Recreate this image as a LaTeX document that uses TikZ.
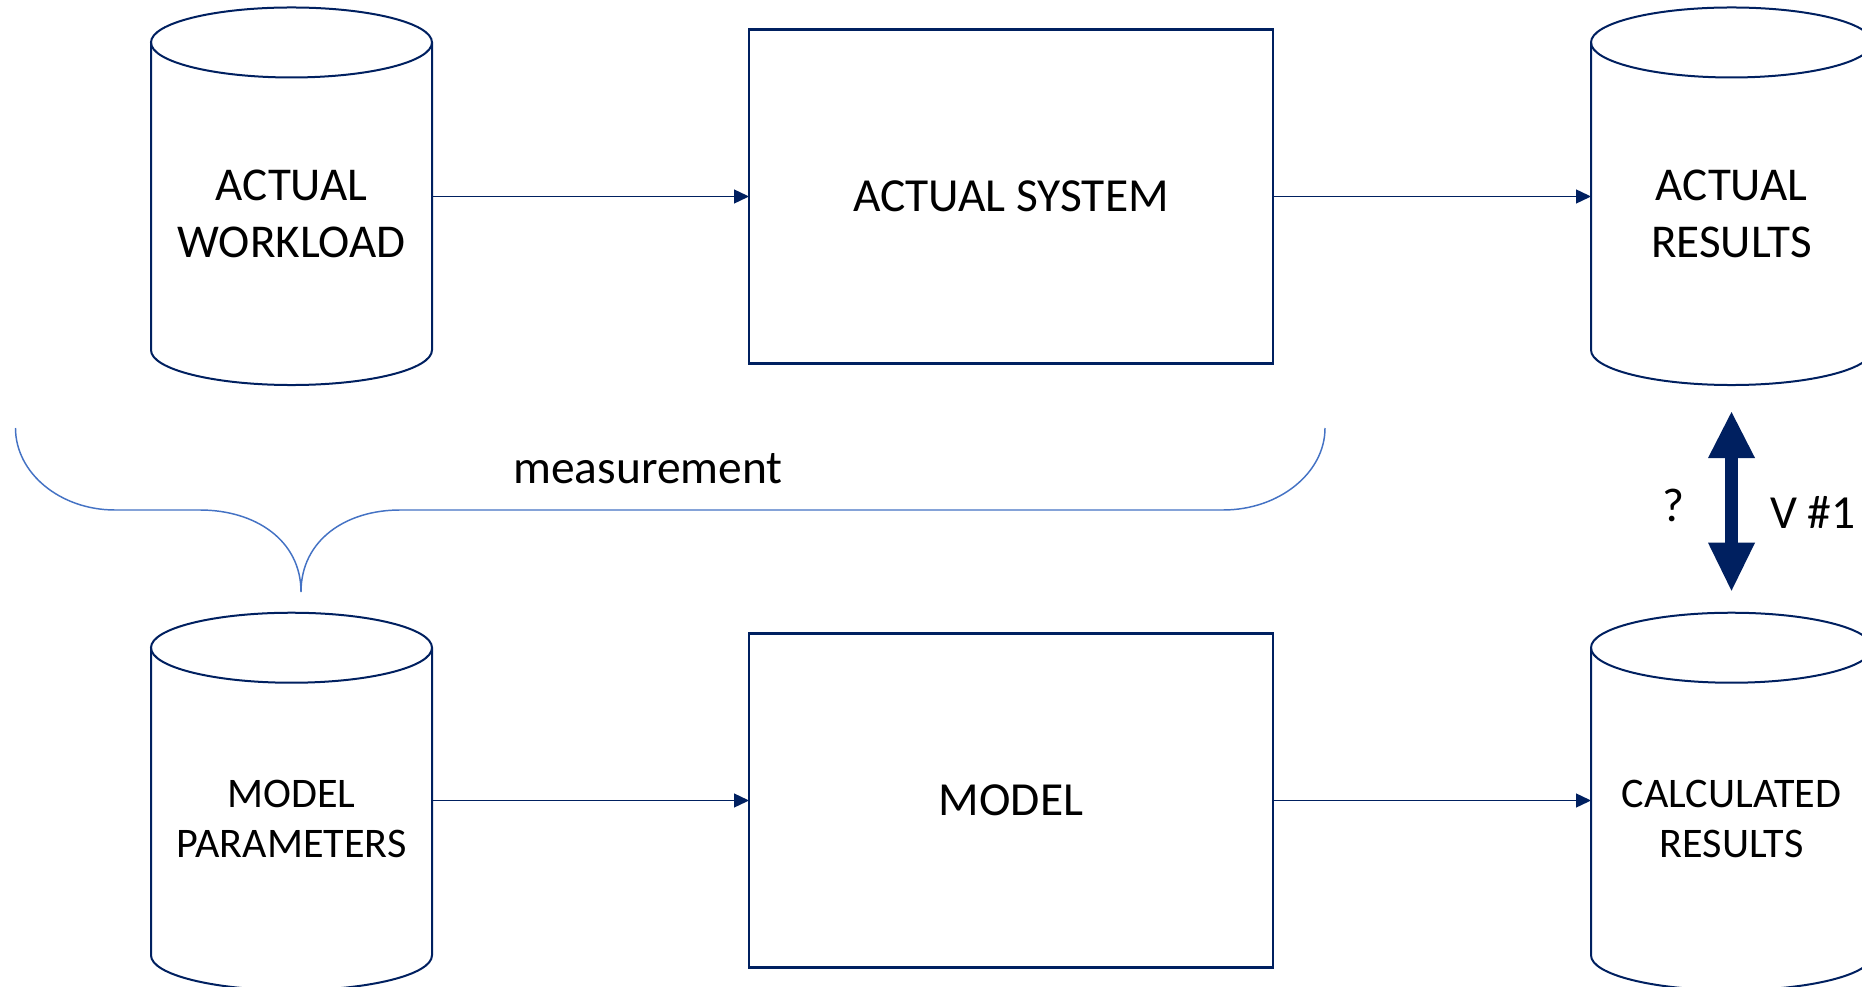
\documentclass[tikz,border=0pt]{standalone}
\usepackage{fontspec}
\setmainfont{Carlito}
\usetikzlibrary{arrows.meta,calc}
\definecolor{navy}{HTML}{002060}
\definecolor{braceblue}{HTML}{4472C4}

% outline of a database cylinder around a text-area node #1
\newcommand\dbcylinder[1]{%
  \draw[outl] ($(#1.north west)+(0,-35)$) -- (#1.south west)
    arc[start angle=180, end angle=0, x radius=140.5, y radius=35]
    -- ($(#1.north east)+(0,-35)$);
  \draw[outl] ($(#1.north)+(0,-35)$) ellipse[x radius=140.5, y radius=35];
}

\begin{document}
\begin{tikzpicture}[x=0.75pt,y=-0.75pt,
  outl/.style={draw=navy,line width=1.5pt},
  cylbody/.style={rectangle,draw=none,inner sep=0pt,outer sep=0pt,
    minimum width=210.75pt,minimum height=204.4pt,align=center},
  bigtext/.style={font=\fontsize{35.3pt}{42.4pt}\selectfont},
  smalltext/.style={font=\fontsize{31.6pt}{37.9pt}\selectfont},
  procbox/.style={rectangle,draw=navy,line width=1.6pt,inner sep=0pt,outer sep=0pt,
    minimum width=393pt,minimum height=250.5pt,
    font=\fontsize{35.6pt}{43pt}\selectfont},
  flow/.style={draw=navy,line width=1pt,-{Triangle[length=11.25pt,width=10.5pt]}},
  compare/.style={draw=navy,line width=9.75pt,
    {Triangle[length=34.5pt,width=35.25pt,line width=0pt]}-{Triangle[length=36pt,width=35.25pt,line width=0pt]}},
  brace/.style={draw=braceblue,line width=1.1pt},
  plain/.style={font=\fontsize{35.6pt}{43pt}\selectfont,inner sep=0pt}
]
\path[use as bounding box,fill=white] (0,0) rectangle (1862,987);

% data stores
\node[cylbody,bigtext] (wl) at (291.5,213.75) {ACTUAL\\WORKLOAD};
\node[cylbody,bigtext] (ares) at (1731.5,213.75) {ACTUAL\\RESULTS};
\node[cylbody,smalltext] (par) at (291.5,819) {MODEL\\PARAMETERS};
\node[cylbody,smalltext] (calc) at (1731.5,819) {CALCULATED\\RESULTS};
\dbcylinder{wl}
\dbcylinder{ares}
\dbcylinder{par}
\dbcylinder{calc}

% processes
\node[procbox] (sys) at (1011,196.5) {ACTUAL SYSTEM};
\node[procbox] (model) at (1011,800.5) {MODEL};

% flows
\draw[flow] (wl.east |- sys.west) -- (sys.west);
\draw[flow] (sys.east) -- (sys.east -| ares.west);
\draw[flow] (par.east |- model.west) -- (model.west);
\draw[flow] (model.east) -- (model.east -| calc.west);

% validation between actual and calculated results
\coordinate (vtop) at ($(ares.south)+(0,62)$);
\coordinate (vbot) at ($(calc.north)+(0,-92)$);
\draw[compare] (vtop) -- (vbot)
  node[plain,pos=0.525,xshift=-43.5pt] (q) {?}
  node[plain,pos=0.564,xshift=61pt] (v1) {V \#1};

% measurement brace
\draw[brace] (15.5,428) .. controls (15.5,473) and (60,510) .. (115,510)
  -- (200,510) .. controls (255,510) and (301,540) .. (301,592)
  .. controls (301,540) and (346,510) .. (400,510)
  -- (1223,510) .. controls (1279,510) and (1325,473) .. (1325,428);
\node[plain,anchor=base] (meas) at (648,483) {measurement};
\end{tikzpicture}
\end{document}
